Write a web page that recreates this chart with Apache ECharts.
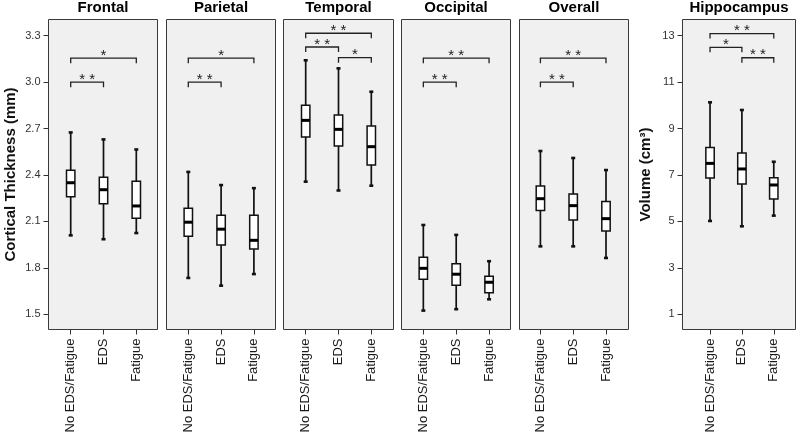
<!DOCTYPE html>
<html>
<head>
<meta charset="utf-8">
<script src="https://cdn.jsdelivr.net/npm/echarts@6/dist/echarts.min.js"></script>
<style>
html,body{margin:0;padding:0;background:#ffffff;}
#chart{width:800px;height:436px;}
</style>
</head>
<body>
<div id="chart"></div>
<script>
// ---------------- data ----------------
const categories = ['No EDS/Fatigue', 'EDS', 'Fatigue'];
const panelNames = ['Frontal', 'Parietal', 'Temporal', 'Occipital', 'Overall', 'Hippocampus'];

// each row: [lower whisker, Q1, median, Q3, upper whisker]
const frontalBox = [
  [2.010, 2.260, 2.350, 2.430, 2.675],
  [1.985, 2.215, 2.305, 2.385, 2.630],
  [2.025, 2.120, 2.200, 2.360, 2.565]
];
const parietalBox = [
  [1.735, 2.005, 2.095, 2.185, 2.420],
  [1.685, 1.948, 2.050, 2.140, 2.335],
  [1.760, 1.922, 1.978, 2.140, 2.315]
];
const temporalBox = [
  [2.357, 2.646, 2.753, 2.850, 3.141],
  [2.300, 2.587, 2.695, 2.788, 3.089],
  [2.331, 2.465, 2.583, 2.717, 2.938]
];
const occipitalBox = [
  [1.524, 1.726, 1.797, 1.868, 2.077],
  [1.533, 1.688, 1.759, 1.827, 2.013],
  [1.597, 1.640, 1.707, 1.746, 1.843]
];
const overallBox = [
  [1.939, 2.170, 2.247, 2.329, 2.555],
  [1.939, 2.109, 2.202, 2.277, 2.510],
  [1.864, 2.038, 2.118, 2.228, 2.432]
];
const hippocampusBox = [
  [5.02, 6.87, 7.50, 8.18, 10.13],
  [4.79, 6.61, 7.26, 7.95, 9.80],
  [5.25, 5.97, 6.57, 6.88, 7.57]
];

// significance brackets: [from category, to category, level, stars]
const frontalSig = [[0, 1, 3.000, '**'], [0, 2, 3.155, '*']];
const parietalSig = [[0, 1, 3.000, '**'], [0, 2, 3.155, '*']];
const temporalSig = [[0, 2, 3.316, '**'], [0, 1, 3.227, '**'], [1, 2, 3.158, '*']];
const occipitalSig = [[0, 1, 3.000, '**'], [0, 2, 3.155, '**']];
const overallSig = [[0, 1, 3.000, '**'], [0, 2, 3.155, '**']];
const hippocampusSig = [[0, 2, 13.09, '**'], [0, 1, 12.50, '*'], [1, 2, 12.05, '**']];

const corticalTicks = [1.5, 1.8, 2.1, 2.4, 2.7, 3.0, 3.3];
const volumeTicks = [1, 3, 5, 7, 9, 11, 13];
const corticalName = 'Cortical Thickness (mm)';
const volumeName = 'Volume (cm\u00B3)';

// ---------------- layout / style ----------------
const FONT = '"Liberation Sans", Arial, Helvetica, sans-serif';
const TOP = 19.5, HEIGHT = 310;
const corticalRange = [1.4018, 3.4047];
const volumeRange = [0.345, 13.698];

const panels = [
  { box: frontalBox,     sig: frontalSig,     bg: [48.5, 109], inner: [54.3, 98.4],  range: corticalRange, ticks: corticalTicks, name: corticalName, gap: 30 },
  { box: parietalBox,    sig: parietalSig,    bg: [166.5, 109], inner: [171.9, 98.4], range: corticalRange },
  { box: temporalBox,    sig: temporalSig,    bg: [283.5, 110], inner: [289.3, 98.4], range: corticalRange },
  { box: occipitalBox,   sig: occipitalSig,   bg: [401.5, 109], inner: [406.9, 98.6], range: corticalRange },
  { box: overallBox,     sig: overallSig,     bg: [519.5, 109], inner: [524.0, 98.4], range: corticalRange },
  { box: hippocampusBox, sig: hippocampusSig, bg: [682.5, 113], inner: [694.1, 95.6], range: volumeRange, ticks: volumeTicks, name: volumeName, gap: 29 }
];

function renderBox(params, api) {
  const x = api.value(0);
  const lo = api.coord([x, api.value(1)]);
  const q1 = api.coord([x, api.value(2)]);
  const md = api.coord([x, api.value(3)]);
  const q3 = api.coord([x, api.value(4)]);
  const hi = api.coord([x, api.value(5)]);
  const cx = lo[0];
  const hw = 4.2, cap = 2;
  const ink = '#111';
  return {
    type: 'group',
    children: [
      { type: 'line', shape: { x1: cx, y1: hi[1], x2: cx, y2: lo[1] }, style: { stroke: ink, lineWidth: 1.7 } },
      { type: 'line', shape: { x1: cx - cap, y1: hi[1], x2: cx + cap, y2: hi[1] }, style: { stroke: ink, lineWidth: 2.6 } },
      { type: 'line', shape: { x1: cx - cap, y1: lo[1], x2: cx + cap, y2: lo[1] }, style: { stroke: ink, lineWidth: 2.6 } },
      { type: 'rect', shape: { x: cx - hw, y: q3[1], width: hw * 2, height: q1[1] - q3[1] }, style: { fill: '#ffffff', stroke: ink, lineWidth: 1.5 } },
      { type: 'line', shape: { x1: cx - hw, y1: md[1], x2: cx + hw, y2: md[1] }, style: { stroke: '#000', lineWidth: 3 } }
    ]
  };
}

function makeSigRenderer(sig) {
  return function (params, api) {
    const a = api.coord([api.value(0), api.value(2)]);
    const b = api.coord([api.value(1), api.value(2)]);
    const drop = 5;
    const stars = sig[params.dataIndex][3].split('').join(' ');
    return {
      type: 'group',
      children: [
        { type: 'polyline', shape: { points: [[a[0], a[1] + drop], [a[0], a[1]], [b[0], b[1]], [b[0], b[1] + drop]] },
          style: { stroke: '#222', lineWidth: 1.3, fill: 'none' } },
        { type: 'text', x: (a[0] + b[0]) / 2, y: a[1] - 2.5,
          style: { text: stars, align: 'center', verticalAlign: 'middle', font: '15px ' + FONT, fill: '#222' } }
      ]
    };
  };
}

const grid = [], xAxis = [], yAxis = [], series = [], graphic = [];

panels.forEach(function (p, i) {
  const bgIdx = 2 * i, inIdx = 2 * i + 1;
  grid.push({ left: p.bg[0], top: TOP, width: p.bg[1], height: HEIGHT, show: true,
              backgroundColor: '#f0f0f0', borderColor: '#3a3a3a', borderWidth: 1, containLabel: false });
  grid.push({ left: p.inner[0], top: TOP, width: p.inner[1], height: HEIGHT, show: false, containLabel: false });

  xAxis.push({ gridIndex: bgIdx, type: 'category', data: categories, show: false });
  xAxis.push({
    gridIndex: inIdx, type: 'category', data: categories,
    axisLine: { show: false },
    axisTick: { show: true, alignWithLabel: true, length: 5, lineStyle: { color: '#333', width: 1 } },
    axisLabel: { rotate: 90, interval: 0, fontSize: 13, color: '#1a1a1a', margin: 9, fontFamily: FONT },
    splitLine: { show: false }
  });

  const hasAxis = !!p.ticks;
  const bgY = { gridIndex: bgIdx, type: 'value', min: p.range[0], max: p.range[1], show: hasAxis,
                splitLine: { show: false }, axisLine: { show: false } };
  if (hasAxis) {
    const dec = p.ticks === corticalTicks ? 1 : 0;
    bgY.axisTick = { show: true, length: 5, customValues: p.ticks, lineStyle: { color: '#333', width: 1 } };
    bgY.axisLabel = { show: true, customValues: p.ticks, fontSize: 11, color: '#333', margin: 8, fontFamily: FONT,
                      formatter: function (v) { return Number(v).toFixed(dec); } };
    bgY.name = p.name;
    bgY.nameLocation = 'middle';
    bgY.nameGap = p.gap;
    bgY.nameTextStyle = { fontSize: 15, fontWeight: 'bold', color: '#111', fontFamily: FONT };
  }
  yAxis.push(bgY);
  yAxis.push({ gridIndex: inIdx, type: 'value', min: p.range[0], max: p.range[1], show: false, splitLine: { show: false } });

  series.push({
    type: 'custom', name: panelNames[i], xAxisIndex: inIdx, yAxisIndex: inIdx, z: 3,
    data: p.box.map(function (b, k) { return [k].concat(b); }),
    encode: { x: 0, y: [1, 2, 3, 4, 5] },
    renderItem: renderBox, silent: true
  });
  series.push({
    type: 'custom', name: panelNames[i] + ' significance', xAxisIndex: inIdx, yAxisIndex: inIdx, z: 4,
    data: p.sig.map(function (s) { return [s[0], s[1], s[2]]; }),
    encode: { x: [0, 1], y: 2 },
    renderItem: makeSigRenderer(p.sig), silent: true
  });

  graphic.push({
    type: 'text', x: p.bg[0] + p.bg[1] / 2, y: 7.5, silent: true,
    style: { text: panelNames[i], align: 'center', verticalAlign: 'middle',
             font: 'bold 15px ' + FONT, fill: '#000' }
  });
});

const chart = echarts.init(document.getElementById('chart'), null, { renderer: 'canvas' });
chart.setOption({
  animation: false,
  backgroundColor: '#ffffff',
  grid: grid, xAxis: xAxis, yAxis: yAxis, series: series, graphic: graphic
});
</script>
</body>
</html>
